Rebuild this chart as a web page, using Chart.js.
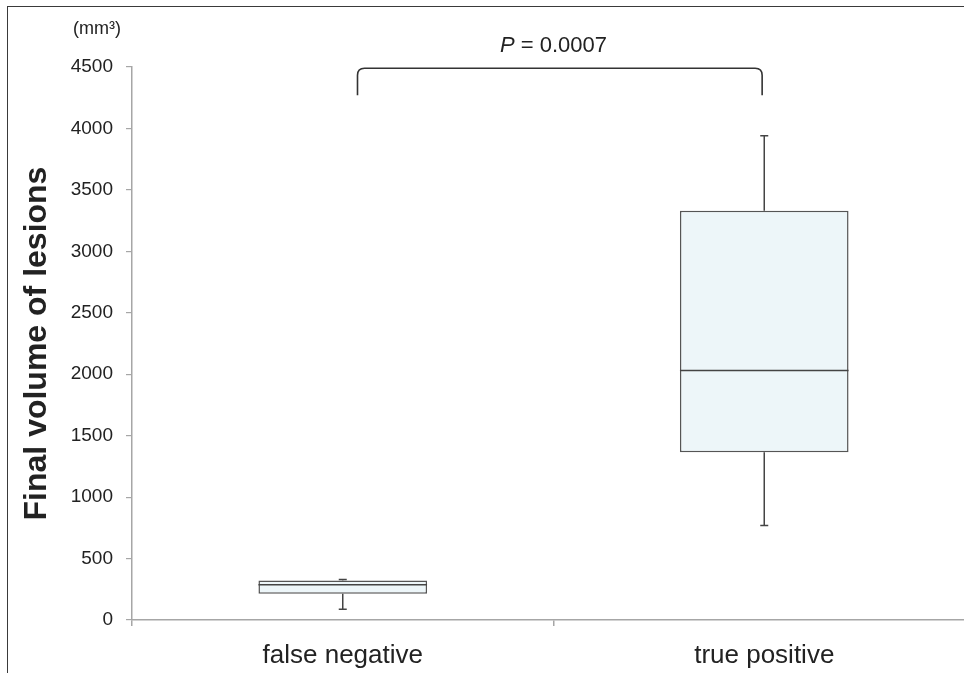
<!DOCTYPE html>
<html>
<head>
<meta charset="utf-8">
<title>Final volume of lesions</title>
<script src="https://cdn.jsdelivr.net/npm/chart.js@4/dist/chart.umd.min.js"></script>
<style>
    html, body { margin: 0; padding: 0; background: #fff; overflow: hidden; }
    #wrap { position: relative; width: 964px; height: 673px; overflow: hidden; }
    #chart { position: absolute; left: 0; top: 0; }
    #frame {
        position: absolute; left: 7px; top: 6px; width: 1000px; height: 700px;
        border-left: 1.5px solid #3a3a3a; border-top: 1.5px solid #3a3a3a;
        pointer-events: none;
    }
</style>
</head>
<body>
<div id="wrap">
    <canvas id="chart" width="990" height="673"></canvas>
    <div id="frame"></div>
</div>
<script>
    // box plot values (mm3)
    const categories = ['false negative', 'true positive'];
    const minVals    = [88, 770];
    const q1Vals     = [213, 1365];
    const medianVals = [287, 2030];
    const q3Vals     = [321, 3330];
    const maxVals    = [330, 3940];
    const yTicks     = [0, 500, 1000, 1500, 2000, 2500, 3000, 3500, 4000, 4500];
    const pLabel     = 'P = 0.0007';

    const FONT = '"Liberation Sans", Arial, Helvetica, sans-serif';
    const AXIS_GRAY = '#a6a6a6';
    const INK = '#444';

    // whiskers, median line, bracket and labels drawn on top of the bars
    const boxPlotExtras = {
        id: 'boxPlotExtras',
        afterDatasetsDraw(chart) {
            const ctx = chart.ctx;
            const xs = chart.scales.x, ys = chart.scales.y;
            const meta = chart.getDatasetMeta(0);
            ctx.save();
            ctx.strokeStyle = INK;
            ctx.lineWidth = 1.5;
            categories.forEach((c, i) => {
                const x = xs.getPixelForValue(i);
                const half = meta.data[i].width / 2;
                const cap = 4;
                ctx.beginPath();
                // upper whisker
                ctx.moveTo(x, ys.getPixelForValue(q3Vals[i]));
                ctx.lineTo(x, ys.getPixelForValue(maxVals[i]));
                ctx.moveTo(x - cap, ys.getPixelForValue(maxVals[i]));
                ctx.lineTo(x + cap, ys.getPixelForValue(maxVals[i]));
                // lower whisker
                ctx.moveTo(x, ys.getPixelForValue(q1Vals[i]));
                ctx.lineTo(x, ys.getPixelForValue(minVals[i]));
                ctx.moveTo(x - cap, ys.getPixelForValue(minVals[i]));
                ctx.lineTo(x + cap, ys.getPixelForValue(minVals[i]));
                // median
                ctx.moveTo(x - half, ys.getPixelForValue(medianVals[i]));
                ctx.lineTo(x + half, ys.getPixelForValue(medianVals[i]));
                ctx.stroke();
            });

            // significance bracket
            const bx1 = xs.getPixelForValue(0.035), bx2 = xs.getPixelForValue(0.995);
            const by = ys.getPixelForValue(4490), byLeg = ys.getPixelForValue(4270);
            const r = 7;
            ctx.strokeStyle = '#333';
            ctx.lineWidth = 1.6;
            ctx.beginPath();
            ctx.moveTo(bx1, byLeg);
            ctx.lineTo(bx1, by + r);
            ctx.quadraticCurveTo(bx1, by, bx1 + r, by);
            ctx.lineTo(bx2 - r, by);
            ctx.quadraticCurveTo(bx2, by, bx2, by + r);
            ctx.lineTo(bx2, byLeg);
            ctx.stroke();

            // P value, italic P
            const py = ys.getPixelForValue(4670);
            const pc = xs.getPixelForValue(0.5);
            ctx.fillStyle = '#222';
            ctx.textBaseline = 'middle';
            ctx.font = 'italic 22px ' + FONT;
            const pW = ctx.measureText('P').width;
            ctx.font = '22px ' + FONT;
            const rest = pLabel.slice(1);
            const restW = ctx.measureText(rest).width;
            const start = pc - (pW + restW) / 2;
            ctx.textAlign = 'left';
            ctx.font = 'italic 22px ' + FONT;
            ctx.fillText('P', start, py);
            ctx.font = '22px ' + FONT;
            ctx.fillText(rest, start + pW, py);

            // unit label above the y axis
            ctx.font = '18px ' + FONT;
            ctx.textAlign = 'center';
            ctx.fillText('(mm³)', ys.right - 35, ys.getPixelForValue(4500) - 38);
            ctx.restore();
        }
    };

    new Chart(document.getElementById('chart'), {
        type: 'bar',
        data: {
            labels: categories,
            datasets: [{
                label: 'IQR',
                data: q1Vals.map((q, i) => [q, q3Vals[i]]),
                backgroundColor: '#edf6f9',
                borderColor: '#555',
                borderWidth: 1.5,
                borderSkipped: false,
                barPercentage: 0.4,
                categoryPercentage: 1.0
            }]
        },
        options: {
            responsive: false,
            animation: false,
            devicePixelRatio: 1,
            layout: { padding: { top: 67, right: 15, bottom: 0, left: 0 } },
            plugins: { legend: { display: false }, tooltip: { enabled: false } },
            scales: {
                x: {
                    afterFit: s => { s.height = 53; },
                    grid: { display: true, offset: true, drawOnChartArea: false, drawTicks: true, tickLength: 6, color: AXIS_GRAY, lineWidth: 1.5 },
                    border: { display: true, color: AXIS_GRAY, width: 1.5 },
                    ticks: { color: '#222', font: { family: FONT, size: 26 }, padding: 14 }
                },
                y: {
                    min: 0,
                    max: 4500,
                    afterFit: s => { s.width = 132; },
                    afterBuildTicks: s => { s.ticks = yTicks.map(v => ({ value: v })); },
                    grid: { display: true, drawOnChartArea: false, drawTicks: true, tickLength: 6, color: AXIS_GRAY, lineWidth: 1.2 },
                    border: { display: true, color: AXIS_GRAY, width: 1.5 },
                    ticks: { color: '#222', font: { family: FONT, size: 19 }, padding: 13, callback: v => String(v) },
                    title: {
                        display: true,
                        text: 'Final volume of lesions',
                        color: '#222',
                        font: { family: FONT, size: 32, weight: 'bold' },
                        padding: { top: 18, bottom: 0 }
                    }
                }
            }
        },
        plugins: [boxPlotExtras]
    });
</script>
</body>
</html>
